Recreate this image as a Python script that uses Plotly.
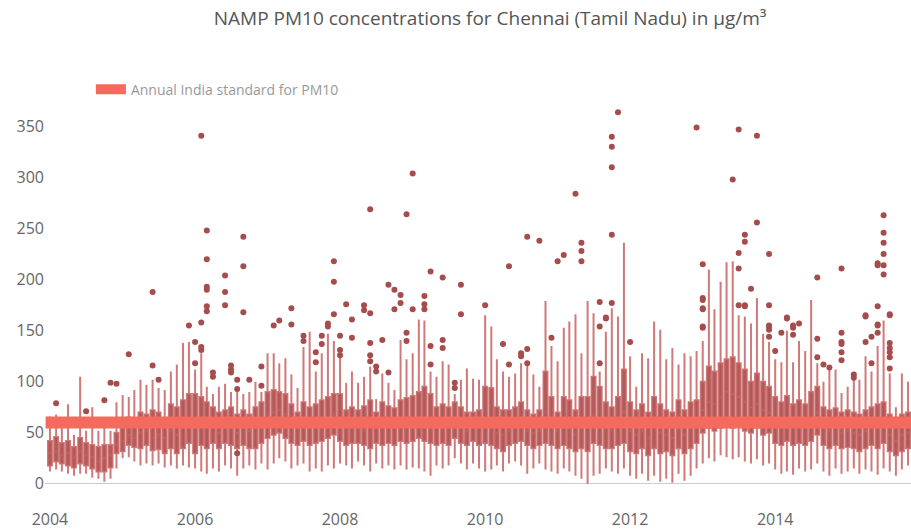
import plotly.graph_objects as go
import pandas as pd

# ---------------- data ----------------
months = [d.strftime("%Y-%m-01") for d in pd.date_range("2004-01-01", "2015-11-01", freq="MS")]

lower = [
    12, 14, 12, 10, 8, 10, 10, 6, 5, 2, 5, 15,
    25, 26, 22, 18, 20, 18, 20, 16, 18, 15, 18, 16,
    15, 12, 10, 15, 12, 18, 15, 8, 15, 18, 14, 20,
    14, 20, 25, 22, 15, 18, 20, 12, 15, 12, 18, 15,
    20, 18, 15, 22, 18, 12, 20, 15, 18, 14, 18, 14,
    16, 15, 12, 8, 18, 15, 18, 25, 20, 14, 20, 15,
    12, 14, 18, 12, 20, 22, 18, 10, 15, 20, 14, 12,
    10, 15, 12, 8, 5, 0, 8, 10, 15, 12, 10, 15,
    8, 5, 10, 3, 8, 2, 5, 1, 10, 3, 8, 15,
    20, 25, 22, 28, 26, 24, 26, 22, 20, 24, 18, 20,
    14, 10, 12, 9, 15, 12, 14, 20, 12, 8, 15, 10,
    12, 15, 10, 14, 12, 9, 15, 12, 8, 14, 18,
]
q1 = [
    18, 22, 20, 18, 16, 20, 18, 15, 12, 12, 16, 30,
    32, 38, 36, 35, 38, 33, 34, 30, 35, 30, 35, 40,
    30, 38, 35, 40, 35, 40, 38, 35, 38, 35, 35, 40,
    45, 48, 50, 45, 40, 38, 42, 38, 40, 42, 45, 48,
    42, 38, 40, 40, 38, 35, 40, 38, 40, 38, 42, 40,
    42, 45, 42, 40, 38, 40, 38, 45, 40, 38, 42, 38,
    40, 38, 35, 32, 38, 40, 42, 38, 35, 38, 40, 38,
    35, 38, 35, 32, 35, 32, 40, 38, 35, 35, 38, 40,
    32, 30, 35, 28, 35, 30, 32, 28, 35, 30, 35, 40,
    50, 55, 52, 55, 58, 55, 58, 52, 50, 55, 48, 50,
    40, 38, 42, 38, 40, 38, 42, 48, 38, 35, 38, 35,
    36, 35, 32, 35, 38, 35, 40, 32, 28, 32, 35,
]
median = [
    30, 32, 28, 30, 26, 32, 28, 26, 22, 25, 28, 38,
    42, 48, 45, 50, 52, 45, 48, 45, 52, 48, 55, 62,
    55, 62, 55, 55, 50, 55, 55, 50, 55, 52, 55, 58,
    68, 70, 72, 68, 60, 55, 62, 58, 60, 62, 65, 68,
    60, 55, 55, 55, 52, 58, 55, 60, 58, 55, 62, 62,
    62, 65, 65, 62, 55, 58, 55, 62, 58, 52, 55, 55,
    62, 58, 50, 48, 52, 55, 58, 52, 50, 52, 70, 58,
    52, 58, 55, 48, 55, 55, 68, 60, 55, 52, 58, 70,
    52, 48, 52, 45, 58, 50, 48, 45, 55, 48, 55, 58,
    72, 80, 78, 85, 90, 88, 85, 80, 75, 78, 72, 70,
    60, 58, 62, 55, 60, 56, 65, 70, 55, 52, 55, 50,
    52, 50, 48, 52, 55, 55, 60, 48, 42, 48, 50,
]
q3 = [
    42, 46, 40, 42, 36, 45, 40, 38, 36, 38, 38, 50,
    60, 65, 62, 70, 68, 72, 70, 62, 78, 75, 82, 88,
    88, 85, 80, 75, 70, 72, 75, 68, 72, 68, 75, 80,
    90, 92, 90, 88, 78, 70, 80, 75, 78, 82, 85, 88,
    88, 72, 75, 72, 76, 82, 70, 80, 76, 74, 82, 84,
    86, 90, 95, 88, 75, 78, 75, 80, 75, 70, 70, 72,
    95, 94, 75, 72, 72, 75, 80, 72, 68, 72, 110, 85,
    70, 85, 82, 72, 85, 85, 105, 95, 80, 75, 85, 112,
    80, 72, 78, 70, 85, 78, 72, 70, 82, 72, 80, 82,
    100, 115, 110, 118, 122, 124, 118, 112, 100, 108, 100, 95,
    85, 80, 86, 78, 82, 78, 90, 95, 75, 72, 74, 70,
    72, 70, 68, 72, 75, 78, 80, 68, 62, 68, 70,
]
upper = [
    66, 68, 55, 78, 48, 105, 52, 75, 52, 55, 52, 80,
    87, 85, 92, 102, 97, 102, 94, 92, 110, 117, 138, 139,
    112, 128, 95, 88, 95, 98, 90, 92, 88, 90, 100, 90,
    128, 128, 118, 123, 107, 94, 134, 149, 110, 128, 147, 140,
    125, 99, 110, 99, 105, 115, 83, 108, 99, 92, 141, 122,
    128, 161, 160, 110, 105, 120, 117, 88, 102, 113, 103, 102,
    165, 154, 122, 110, 105, 108, 118, 117, 107, 95, 179, 135,
    120, 153, 159, 166, 128, 179, 167, 110, 149, 172, 164, 236,
    125, 95, 128, 123, 159, 151, 122, 133, 117, 128, 125, 130,
    140, 210, 171, 198, 217, 218, 165, 164, 157, 182, 147, 139,
    122, 119, 150, 119, 140, 130, 180, 118, 100, 112, 112, 89,
    95, 102, 102, 125, 110, 135, 160, 108, 75, 108, 100,
]

outlier_month = (
    ["2004-02", "2004-07", "2004-10", "2004-11", "2004-12"]
    + ["2005-02", "2005-06", "2005-06", "2005-07", "2005-12"]
    + ["2006-01", "2006-01", "2006-02", "2006-02", "2006-02", "2006-02"]
    + ["2006-03"] * 6 + ["2006-04"] * 2 + ["2006-06"] * 3 + ["2006-07"] * 3
    + ["2006-08"] * 3 + ["2006-09"] * 3 + ["2006-10", "2006-12", "2006-12"]
    + ["2007-02", "2007-03", "2007-05", "2007-05", "2007-07", "2007-07"]
    + ["2007-09", "2007-09", "2007-10", "2007-10", "2007-11", "2007-11"]
    + ["2007-12"] * 3
    + ["2008-01"] * 3 + ["2008-02", "2008-03", "2008-03", "2008-05", "2008-05"]
    + ["2008-06"] * 5 + ["2008-07"] * 2 + ["2008-08", "2008-09", "2008-09"]
    + ["2008-10", "2008-10", "2008-11", "2008-11"] + ["2008-12"] * 3
    + ["2009-01", "2009-01"] + ["2009-03"] * 3 + ["2009-04"] * 3 + ["2009-06"] * 3
    + ["2009-08", "2009-08", "2009-09", "2009-09"]
    + ["2010-01", "2010-04", "2010-05", "2010-05", "2010-07", "2010-07"]
    + ["2010-08"] * 3 + ["2010-10", "2010-12"]
    + ["2011-01", "2011-02", "2011-04"] + ["2011-05"] * 3 + ["2011-08"] * 3
    + ["2011-09", "2011-09"] + ["2011-10"] * 5 + ["2011-11"]
    + ["2012-01", "2012-12"] + ["2013-01"] * 7 + ["2013-06"] + ["2013-07"] * 4
    + ["2013-08"] * 4 + ["2013-09"] + ["2013-10"] * 2 + ["2013-12"] * 6
    + ["2014-01", "2014-02", "2014-03", "2014-03"] + ["2014-04"] * 3
    + ["2014-05"] + ["2014-08"] * 3 + ["2014-09", "2014-10"] + ["2014-12"] * 6
    + ["2015-02", "2015-02"] + ["2015-04"] * 3 + ["2015-05", "2015-05"]
    + ["2015-06"] * 6 + ["2015-07"] * 6 + ["2015-08"] * 7
)
outlier_value = (
    [79, 71, 82, 99, 98]
    + [127, 116, 188, 102, 155]
    + [139, 118, 341, 158, 134, 131]
    + [248, 220, 193, 190, 174, 169] + [109, 105] + [204, 188, 175] + [116, 112, 109]
    + [102, 93, 30] + [242, 213, 168] + [102, 115, 96]
    + [155, 160, 172, 156, 145, 140]
    + [129, 119, 145, 137, 157, 154]
    + [166, 218, 198]
    + [145, 131, 126] + [176, 161, 143, 175, 170]
    + [167, 138, 126, 120, 269] + [115, 110] + [141, 109, 195]
    + [171, 190, 177, 185] + [148, 140, 264]
    + [171, 304] + [176, 171, 184] + [135, 117, 208] + [141, 133, 202]
    + [99, 94, 166, 195]
    + [175, 137, 117, 213, 125, 128]
    + [132, 118, 242] + [238, 143]
    + [218, 224, 284] + [236, 228, 218] + [178, 154, 118]
    + [162, 163] + [340, 330, 310, 244, 177] + [364]
    + [139, 349] + [215, 182, 172, 154, 180, 171, 153] + [298] + [347, 226, 211, 175]
    + [244, 237, 174, 175] + [191] + [341, 256] + [225, 175, 154, 155, 151, 144]
    + [130, 148, 163, 162] + [155, 153, 146]
    + [157] + [202, 142, 124] + [117, 114] + [211, 139, 148, 137, 129, 121]
    + [107, 104] + [164, 165, 139] + [144, 118]
    + [174, 216, 214, 155, 156, 148] + [263, 246, 236, 225, 214, 205]
    + [165, 166, 138, 133, 129, 124, 113]
)

standard_x = ["2003-12-10", "2016-01-01"]
standard_y = [60, 60]
standard_name = "Annual India standard for PM10"

title_text = "NAMP PM10 concentrations for Chennai (Tamil Nadu) in µg/m³"
tick_years = ["2004-01-01", "2006-01-01", "2008-01-01", "2010-01-01", "2012-01-01", "2014-01-01"]
tick_labels = ["2004", "2006", "2008", "2010", "2012", "2014"]
y_ticks = [0, 50, 100, 150, 200, 250, 300, 350]

# ---------------- figure ----------------
fig = go.Figure()

fig.add_trace(go.Box(
    x=months, q1=q1, median=median, q3=q3,
    lowerfence=lower, upperfence=upper,
    boxpoints=False, whiskerwidth=0,
    width=20 * 86400000,
    line=dict(color="rgba(200,98,98,0.85)", width=2),
    fillcolor="rgba(165,72,72,0.9)",
    showlegend=False, hoverinfo="skip",
))

fig.add_trace(go.Scatter(
    x=[m + "-01" for m in outlier_month], y=outlier_value,
    mode="markers",
    marker=dict(size=6, color="#a64c4c"),
    showlegend=False, hoverinfo="skip",
))

fig.add_trace(go.Scatter(
    x=standard_x, y=standard_y, mode="lines",
    line=dict(color="#f46a5c", width=12),
    name=standard_name, hoverinfo="skip",
))

fig.update_layout(
    width=911, height=529,
    margin=dict(l=45, r=0, t=105, b=39),
    paper_bgcolor="white", plot_bgcolor="white",
    font=dict(family="Open Sans, sans-serif", color="#666"),
    title=dict(text=title_text, x=0.538, xanchor="center", y=0.966, yanchor="middle",
               font=dict(size=19, color="#555")),
    legend=dict(orientation="h", x=0.053, xanchor="left", y=1.04, yanchor="middle",
                font=dict(size=14, color="#999"), bgcolor="rgba(0,0,0,0)"),
    showlegend=True,
    hovermode=False,
)
fig.update_xaxes(
    type="date", range=["2003-12-07", "2015-11-16"],
    tickvals=tick_years, ticktext=tick_labels,
    showgrid=False, showline=False, zeroline=False,
    ticks="", ticklabelstandoff=18,
    tickfont=dict(size=16, color="#666"),
)
fig.update_yaxes(
    range=[-6, 371], tickvals=y_ticks,
    showgrid=False, showline=False,
    zeroline=True, zerolinecolor="#ccc", zerolinewidth=1,
    tickfont=dict(size=16, color="#666"),
)

fig.write_html("out.html", config={"displayModeBar": False},
               post_script="document.body.style.margin='0';")
